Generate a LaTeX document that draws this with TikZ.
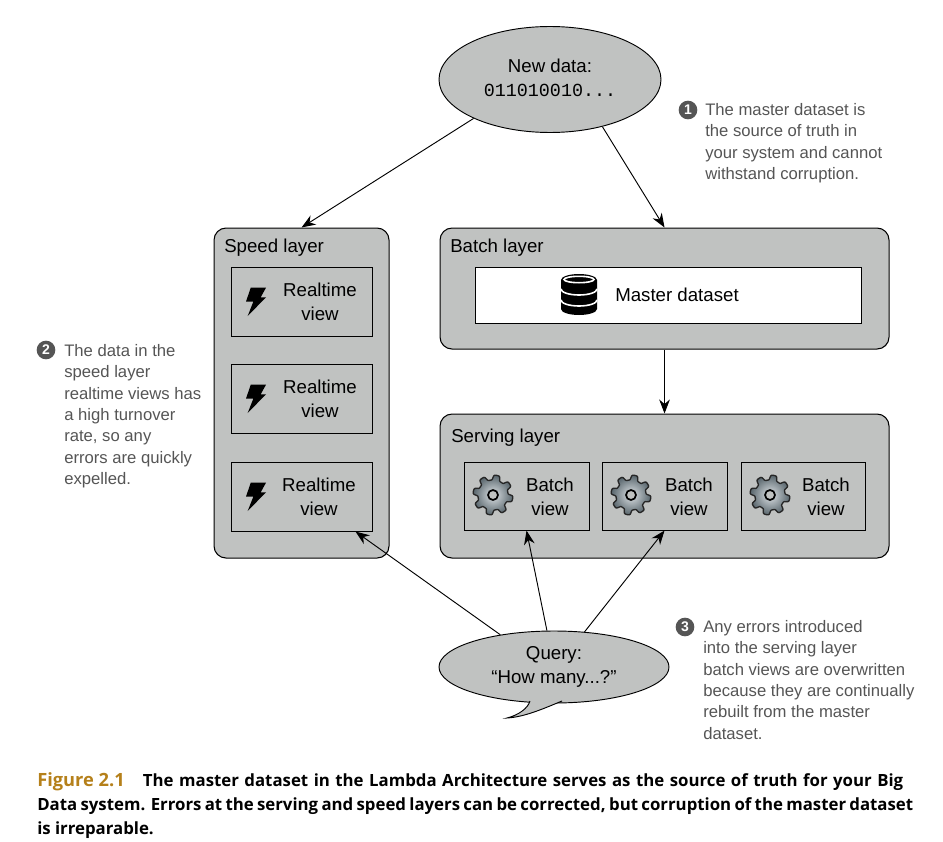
\documentclass[tikz,border=0pt]{standalone}
\usepackage{fontspec}
\setmainfont{Liberation Sans}
\newfontfamily\codefont{Liberation Mono}
\newfontfamily\capfont{Open Sans}
\usetikzlibrary{shapes.geometric,arrows.meta}
\definecolor{layergray}{HTML}{C0C2C1}
\definecolor{notegray}{HTML}{555555}
\definecolor{capgold}{HTML}{B5801A}
\definecolor{gearlight}{HTML}{DDE2E5}
\definecolor{geardark}{HTML}{59666D}
\tikzset{
	layer/.style={draw=black,fill=layergray,rounded corners=9pt,line width=0.8pt,inner sep=0pt,anchor=north west},
	viewbox/.style={draw=black,fill=layergray,line width=0.8pt,inner sep=0pt,anchor=north west},
	layertitle/.style={inner sep=0pt,anchor=west,font=\fontsize{14}{18}\selectfont},
	viewtext/.style={inner sep=0pt,align=center,font=\fontsize{14}{18}\selectfont},
	bubble/.style={ellipse,draw=black,fill=layergray,line width=0.7pt,inner sep=0pt,align=center,font=\fontsize{14}{18}\selectfont},
	link/.style={draw=black,line width=0.7pt,-{Stealth[length=10.5pt,width=8pt]}},
	note/.style={inner sep=0pt,anchor=north west,align=left,text=notegray,font=\fontsize{12.5}{16}\selectfont},
	notenum/.style={circle,fill=notegray,text=white,inner sep=0pt,minimum size=14pt,font=\fontsize{10.5}{10}\selectfont\bfseries},
	caption/.style={inner sep=0pt,anchor=north west,align=left,font=\fontsize{12.6}{18}\selectfont\capfont\bfseries},
	bolt/.pic={\fill[black] (-5.3,-14.3) -- (10,-14.3) -- (4.7,-4.7) -- (10,-4.7) -- (-8.3,14) -- (-2.7,-0.3) -- (-10,-0.3) -- cycle;},
	gearicon/.pic={
		\draw[draw=black!85,line width=1pt,inner color=gearlight,outer color=geardark] plot[domain=0:360,samples=161] ({(17.5+2.5*tanh(2.5*sin(8*\x)))*cos(\x)},{(17.5+2.5*tanh(2.5*sin(8*\x)))*sin(\x)}) -- cycle;
		\draw[draw=black,line width=1.3pt,fill=layergray] (0,0) circle (5);
	},
}
\begin{document}
\begin{tikzpicture}[x=0.75pt,y=-0.75pt]
	\useasboundingbox (0,0) rectangle (943,842);

	% layers
	\node[layer,minimum width=131.25pt,minimum height=247.5pt] (speed) at (213.5,227.5) {};
	\node[layer,minimum width=336.75pt,minimum height=90.75pt] (batch) at (439.5,227.5) {};
	\node[layer,minimum width=336.75pt,minimum height=108pt] (serving) at (439.5,413.5) {};
	\node[layertitle] (speedtitle) at (224,248) {Speed layer};
	\node[layertitle] (batchtitle) at (450,248) {Batch layer};
	\node[layertitle] (servingtitle) at (451,438) {Serving layer};

	% realtime views
	\node[viewbox,minimum width=105.75pt,minimum height=51.75pt] (rtone) at (230.5,266.5) {};
	\node[viewbox,minimum width=105.75pt,minimum height=51.75pt] (rttwo) at (230.5,363.5) {};
	\node[viewbox,minimum width=105.75pt,minimum height=51.75pt] (rtthree) at (230.5,461.5) {};
	\node[viewtext] (rtonetext) at (320,302) {Realtime\\view};
	\node[viewtext] (rttwotext) at (320,399) {Realtime\\view};
	\node[viewtext] (rtthreetext) at (319,497) {Realtime\\view};
	\pic at (256,302) {bolt};
	\pic at (256,399) {bolt};
	\pic at (256,497) {bolt};

	% master dataset
	\node[viewbox,fill=white,minimum width=289.5pt,minimum height=42pt] (master) at (474.5,266.5) {};
	\node[viewtext,anchor=west] (mastertext) at (615,295) {Master dataset};
	\fill[black] (561,280) arc (180:360:18 and 6) -- (597,309) arc (0:180:18 and 6) -- cycle;
	\draw[white,line width=1.2pt] (579,279.5) ellipse (15 and 3.2);
	\draw[white,line width=1.2pt] (561,289) arc (180:0:18 and 6);
	\draw[white,line width=1.2pt] (561,300) arc (180:0:18 and 6);

	% batch views
	\node[viewbox,minimum width=93.75pt,minimum height=51pt] (bvone) at (463.5,461.5) {};
	\node[viewbox,minimum width=93.75pt,minimum height=51pt] (bvtwo) at (601.5,461.5) {};
	\node[viewbox,minimum width=93pt,minimum height=51pt] (bvthree) at (740.5,461.5) {};
	\node[viewtext] (bvonetext) at (550,497) {Batch\\view};
	\node[viewtext] (bvtwotext) at (689,497) {Batch\\view};
	\node[viewtext] (bvthreetext) at (826,497) {Batch\\view};
	\pic at (493,495) {gearicon};
	\pic at (631,495) {gearicon};
	\pic at (770,495) {gearicon};

	% bubbles
	\node[bubble,minimum width=166.5pt,minimum height=79.5pt] (newdata) at (550,79.5) {};
	\node[viewtext] (newdatatext) at (550,66) {New data:};
	\node[viewtext,font=\fontsize{13.8}{18}\selectfont\codefont] (bitstext) at (550,90) {011010010...};
	\node[bubble,minimum width=172.5pt,minimum height=54pt] (query) at (554,667) {};
	\fill[layergray] (530,701) .. controls (528,708) and (519,715) .. (507,718) .. controls (525,717) and (545,708) .. (562,701) -- (562,695) -- (530,695) -- cycle;
	\draw[line width=0.7pt] (530,701) .. controls (528,708) and (519,715) .. (507,718) .. controls (525,717) and (545,708) .. (562,701);
	\node[viewtext] (querytext) at (554,667) {Query:\\``How many...?''};

	% connectors
	\draw[link] (newdata.207) -- (speed.north);
	\draw[link] (newdata.-42) -- (batch.north);
	\draw[link] (batch.south) -- (serving.north);
	\draw[link] (query.149) -- (rtthree.327);
	\draw[link] (query.101) -- (bvone.south);
	\draw[link] (query.49) -- (bvtwo.south);

	% notes
	\node[notenum] (numone) at (688,110) {1};
	\node[note] (noteone) at (705,103) {The master dataset is\\the source of truth in\\your system and cannot\\withstand corruption.};
	\node[notenum] (numtwo) at (46,350) {2};
	\node[note] (notetwo) at (64,344) {The data in the\\speed layer\\realtime views has\\a high turnover\\rate, so any\\errors are quickly\\expelled.};
	\node[notenum] (numthree) at (685,627) {3};
	\node[note] (notethree) at (703,620) {Any errors introduced\\into the serving layer\\batch views are overwritten\\because they are continually\\rebuilt from the master\\dataset.};

	% caption
	\node[caption] (figcaption) at (37,772) {\makebox[649.5pt][s]{\makebox[65.25pt][l]{\fontsize{13.7}{18}\selectfont\textcolor{capgold}{Figure 2.1}}\hspace{14pt}The master dataset in the Lambda Architecture serves as the source of truth for your Big}\\\makebox[657pt][s]{Data system. Errors at the serving and speed layers can be corrected, but corruption of the master dataset}\\is irreparable.};
\end{tikzpicture}
\end{document}
